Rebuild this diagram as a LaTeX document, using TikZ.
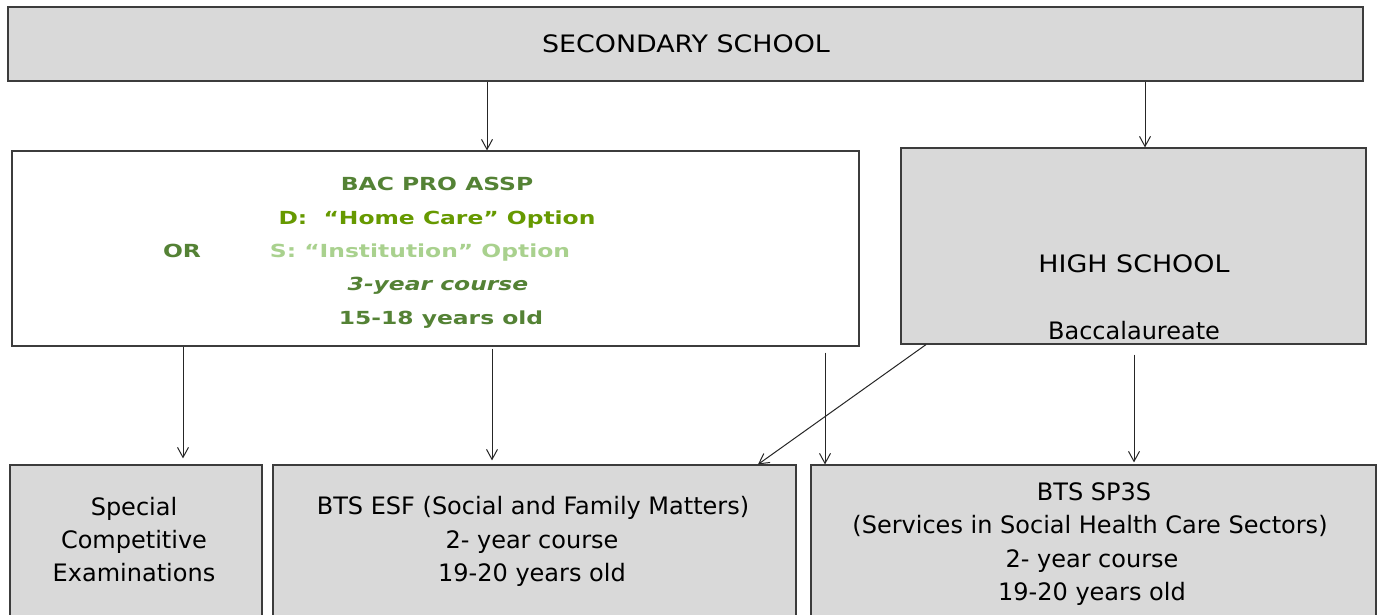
\documentclass[tikz,border=0pt]{standalone}
\usepackage{fontspec}
\setmainfont{DejaVu Sans}
\newfontfamily\bacfont[FakeStretch=1.3]{DejaVu Sans}
\newfontfamily\capfont[FakeStretch=1.12]{DejaVu Sans}
\usetikzlibrary{arrows.meta}
\definecolor{boxgrey}{RGB}{217,217,217}
\definecolor{edgecol}{RGB}{60,60,60}
\definecolor{darkgreen}{RGB}{84,130,53}
\definecolor{homegreen}{RGB}{102,153,0}
\definecolor{instgreen}{RGB}{169,209,142}
\tikzset{
  box/.style={draw=edgecol, line width=1.2pt, inner sep=0pt, rectangle},
  greybox/.style={box, fill=boxgrey},
  txt/.style={inner sep=0pt, anchor=base, font=\fontsize{24}{30}\selectfont},
  captxt/.style={inner sep=0pt, anchor=base, font=\capfont\fontsize{24}{30}\selectfont},
  bactxt/.style={inner sep=0pt, anchor=base, font=\bacfont\bfseries\fontsize{18}{24}\selectfont, text=darkgreen},
  arr/.style={draw=black!85, line width=1pt, -{Straight Barb[length=10pt,width=11pt]}}
}
\begin{document}
\begin{tikzpicture}[x=1pt,y=-1pt]
\clip (0,0) rectangle (1381,615);
\fill[white] (0,0) rectangle (1381,615);
% boxes
\node[greybox, minimum width=1355pt, minimum height=74pt] (top) at (685.5,44) {};
\node[box, fill=white, minimum width=847pt, minimum height=195pt] (bac) at (435.5,248.5) {};
\node[greybox, minimum width=465pt, minimum height=196pt] (hs) at (1133.5,246) {};
\node[greybox, minimum width=252pt, minimum height=160pt] (spec) at (136,545) {};
\node[greybox, minimum width=523pt, minimum height=160pt] (esf) at (534.5,545) {};
\node[greybox, minimum width=565pt, minimum height=160pt] (sp3s) at (1093.5,545) {};
% texts
\node[captxt] (toptxt) at (686,53) {SECONDARY SCHOOL};
\node[bactxt] (bac1) at (437,190) {BAC PRO ASSP};
\node[bactxt, text=homegreen] (bac2) at (437,224) {D:\ \ “Home Care” Option};
\node[bactxt] (bacor) at (182,257) {OR};
\node[bactxt, text=instgreen] (bac3) at (420,257) {S: “Institution” Option};
\node[bactxt, font=\bacfont\bfseries\itshape\fontsize{18}{24}\selectfont] (bac4) at (438,290) {3-year course};
\node[bactxt] (bac5) at (441,324) {15-18 years old};
\node[captxt] (hs1) at (1134,272) {HIGH SCHOOL};
\node[txt] (hs2) at (1134,339) {Baccalaureate};
\node[txt] (spec1) at (134,515) {Special};
\node[txt] (spec2) at (134,548) {Competitive};
\node[txt] (spec3) at (134,581) {Examinations};
\node[txt] (esf1) at (533,514) {BTS ESF (Social and Family Matters)};
\node[txt] (esf2) at (532,548) {2- year course};
\node[txt] (esf3) at (532,581) {19-20 years old};
\node[txt] (sp1) at (1094,500) {BTS SP3S};
\node[txt] (sp2) at (1090,533) {(Services in Social Health Care Sectors)};
\node[txt] (sp3) at (1092,567) {2- year course};
\node[txt] (sp4) at (1092,600) {19-20 years old};
% connectors
\coordinate (c1) at (487,0);
\coordinate (c2) at (1145,0);
\coordinate (c3) at (183,0);
\coordinate (c4) at (492,0);
\coordinate (c5) at (825,0);
\coordinate (c6) at (1134,0);
\coordinate (d1) at (926,0);
\coordinate (d2) at (758,0);
\draw[arr] (top.south -| c1) -- (bac.north -| c1);
\draw[arr] (top.south -| c2) -- (hs.north -| c2);
\draw[arr, shorten >=6pt] (bac.south -| c3) -- (spec.north -| c3);
\draw[arr, shorten <=2pt, shorten >=4pt] (bac.south -| c4) -- (esf.north -| c4);
\draw[arr, shorten <=6pt] (bac.south -| c5) -- (sp3s.north -| c5);
\draw[arr, shorten <=10pt, shorten >=2pt] (hs.south -| c6) -- (sp3s.north -| c6);
\draw[arr] (hs.south -| d1) -- (esf.north -| d2);
\end{tikzpicture}
\end{document}
